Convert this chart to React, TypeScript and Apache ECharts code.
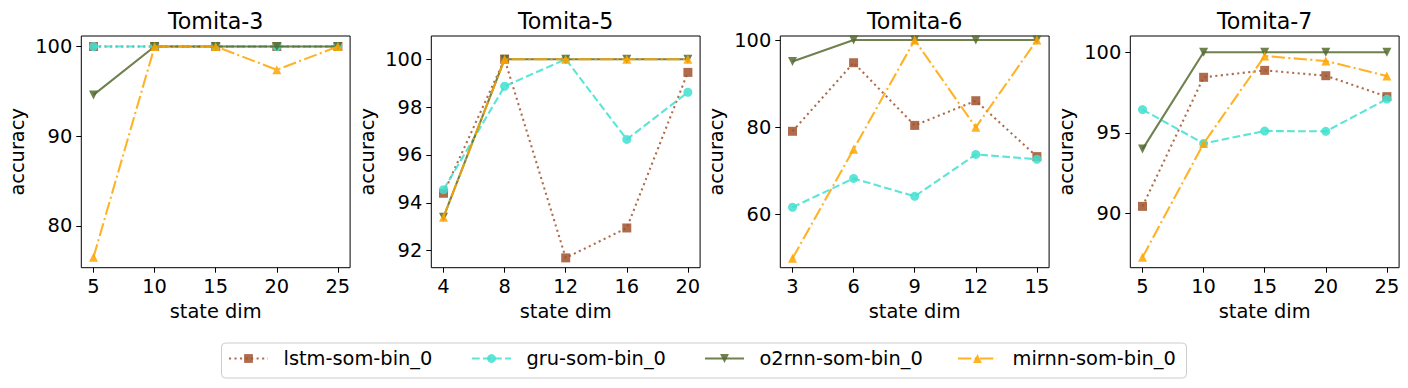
import React, { useEffect, useRef } from "react";
import * as echarts from "echarts";

// ---------- data ----------
const PANEL_TITLES = ["Tomita-3", "Tomita-5", "Tomita-6", "Tomita-7"];
const STATE_DIMS = [
  [5, 10, 15, 20, 25],
  [4, 8, 12, 16, 20],
  [3, 6, 9, 12, 15],
  [5, 10, 15, 20, 25],
];
const MODEL_NAMES = ["lstm-som-bin_0", "gru-som-bin_0", "o2rnn-som-bin_0", "mirnn-som-bin_0"];

const LSTM_ACC = [
  [100, 100, 100, 100, 100],
  [94.4, 100, 91.7, 92.95, 99.45],
  [79.1, 94.8, 80.45, 86.1, 73.3],
  [90.45, 98.45, 98.88, 98.55, 97.25],
];
const GRU_ACC = [
  [100, 100, 100, 100, 100],
  [94.55, 98.87, 100, 96.65, 98.62],
  [61.7, 68.3, 64.2, 73.8, 72.7],
  [96.45, 94.35, 95.12, 95.1, 97.1],
];
const O2RNN_ACC = [
  [94.6, 100, 100, 100, 100],
  [93.4, 100, 100, 100, 100],
  [95.1, 100, 100, 100, 100],
  [94.0, 100, 100, 100, 100],
];
const MIRNN_ACC = [
  [76.5, 100, 100, 97.4, 100],
  [93.4, 100, 100, 100, 100],
  [50, 75, 100, 80, 100],
  [87.3, 94.35, 99.77, 99.46, 98.53],
];

const Y_TICKS = [
  [80, 90, 100],
  [92, 94, 96, 98, 100],
  [60, 80, 100],
  [90, 95, 100],
];
const Y_LIMITS = [
  [75.33, 101.17],
  [91.29, 100.97],
  [47.86, 100.92],
  [86.65, 101.01],
];
const X_LIMITS = [
  [4, 26],
  [3.2, 20.8],
  [2.4, 15.6],
  [4, 26],
];

// ---------- styles ----------
const FONT = "DejaVu Sans";
const LW = 2.08;
const MODEL_STYLES = [
  { color: "#A0522D", dash: [2.08, 3.44], symbol: "rect", rotate: 0 },
  { color: "#40E0D0", dash: [7.71, 3.33], symbol: "circle", rotate: 0 },
  { color: "#556B2F", dash: "solid", symbol: "triangle", rotate: 180 },
  { color: "#FFA500", dash: [13.33, 3.33, 2.08, 3.33], symbol: "triangle", rotate: 0 },
];
const GRID_LEFTS = [81.3, 431.3, 780.3, 1130.3];
const GRID_TOP = 36;
const GRID_W = 268.8;
const GRID_H = 231.7;
const LEGEND_LEFTS = [228, 471, 704, 957];

export default function App() {
  const ref = useRef<HTMLDivElement>(null);

  useEffect(() => {
    if (!ref.current) return;
    const chart = echarts.init(ref.current, null, { renderer: "svg" });
    const allAcc = [LSTM_ACC, GRU_ACC, O2RNN_ACC, MIRNN_ACC];

    const grid = GRID_LEFTS.map((l) => ({
      left: l,
      top: GRID_TOP,
      width: GRID_W,
      height: GRID_H,
      show: true,
      borderColor: "#000",
      borderWidth: 1,
      backgroundColor: "transparent",
    }));

    const xAxis = STATE_DIMS.map((dims, i) => ({
      type: "value",
      gridIndex: i,
      min: X_LIMITS[i][0],
      max: X_LIMITS[i][1],
      name: "state dim",
      nameLocation: "middle",
      nameGap: 34,
      nameTextStyle: { fontSize: 19.4, color: "#000", fontFamily: FONT },
      axisLine: { show: false },
      axisTick: {
        show: true,
        length: 5,
        inside: false,
        lineStyle: { color: "#000", width: 1 },
        customValues: dims,
      },
      axisLabel: {
        show: true,
        margin: 9,
        fontSize: 19.4,
        color: "#000",
        fontFamily: FONT,
        customValues: dims,
      },
      splitLine: { show: false },
    }));

    const yAxis = Y_TICKS.map((ticks, i) => ({
      type: "value",
      gridIndex: i,
      min: Y_LIMITS[i][0],
      max: Y_LIMITS[i][1],
      name: "accuracy",
      nameLocation: "middle",
      nameGap: 54,
      nameTextStyle: { fontSize: 19.4, color: "#000", fontFamily: FONT },
      axisLine: { show: false },
      axisTick: {
        show: true,
        length: 5,
        inside: false,
        lineStyle: { color: "#000", width: 1 },
        customValues: ticks,
      },
      axisLabel: {
        show: true,
        margin: 9,
        fontSize: 19.4,
        color: "#000",
        fontFamily: FONT,
        customValues: ticks,
      },
      splitLine: { show: false },
    }));

    const series: any[] = [];
    for (let p = 0; p < 4; p++) {
      for (let m = 0; m < 4; m++) {
        const st = MODEL_STYLES[m];
        series.push({
          type: "line",
          name: MODEL_NAMES[m],
          xAxisIndex: p,
          yAxisIndex: p,
          data: STATE_DIMS[p].map((x, k) => [x, allAcc[m][p][k]]),
          symbol: st.symbol,
          symbolRotate: st.rotate,
          symbolSize: 9,
          showSymbol: true,
          lineStyle: { color: st.color, width: LW, type: st.dash, opacity: 0.85, cap: "butt" },
          itemStyle: { color: st.color, opacity: 0.85 },
          emphasis: { disabled: true },
          z: 2 + m,
        });
      }
    }

    const title = PANEL_TITLES.map((t, i) => ({
      text: t,
      left: GRID_LEFTS[i] + GRID_W / 2,
      top: 10,
      textAlign: "center",
      padding: 0,
      textStyle: { fontSize: 22.2, fontWeight: "normal", color: "#000", fontFamily: FONT },
    }));

    const legend = MODEL_NAMES.map((n, i) => ({
      data: [n],
      left: LEGEND_LEFTS[i],
      top: 349,
      orient: "horizontal",
      padding: 0,
      itemGap: 0,
      itemWidth: 39,
      itemHeight: 11,
      selectedMode: false,
      formatter: "{t|{name}}",
      textStyle: {
        fontSize: 19.4,
        color: "#000",
        fontFamily: FONT,
        rich: { t: { fontSize: 19.4, color: "#000", fontFamily: FONT, padding: [0, 0, 0, 10.5] } },
      },
    }));

    chart.setOption({
      animation: false,
      backgroundColor: "#fff",
      textStyle: { fontFamily: FONT },
      title,
      grid,
      xAxis,
      yAxis,
      series,
      legend,
      graphic: [
        {
          type: "rect",
          shape: { x: 221.5, y: 343, width: 965, height: 35, r: 4 },
          style: { fill: "#fff", stroke: "#cccccc", lineWidth: 1 },
          z: 0,
        },
      ],
    });

    return () => chart.dispose();
  }, []);

  return (
    <div
      ref={ref}
      style={{ position: "fixed", left: 0, top: 0, width: 1408, height: 388 }}
    />
  );
}
